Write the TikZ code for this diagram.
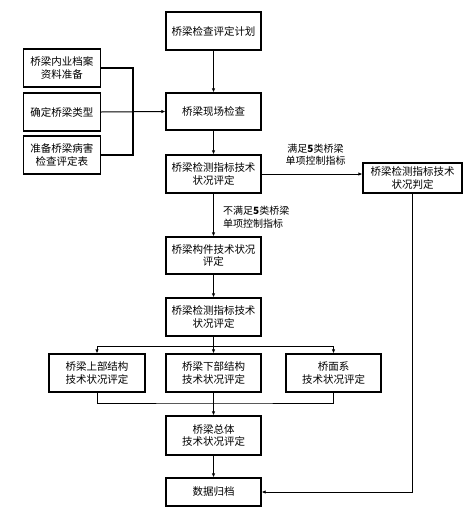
\documentclass[tikz,border=0pt]{standalone}
\usepackage{fontspec}
\usepackage{tikz}
\usetikzlibrary{arrows.meta}
\newfontfamily\cjk{Noto Sans CJK SC}

\begin{document}
\begin{tikzpicture}[
  x=1pt, y=1pt,
  box/.style={draw,line width=1.3pt,minimum width=95pt,minimum height=38pt,inner sep=2pt,align=center,font=\cjk\fontsize{10.5}{12.5}\selectfont},
  sidebox/.style={box,minimum width=77pt},
  lbl/.style={inner sep=0pt,font=\cjk\fontsize{10}{12.5}\selectfont},
  link/.style={line width=1pt},
  arr/.style={link,-{Latex[length=4pt,width=3.5pt]}}
]
  \useasboundingbox (0,0) rectangle (473,-515);
  \node[box] (plan) at (213.5,-31) {桥梁检查评定计划};
  \node[box,minimum height=37pt] (site) at (213.5,-111.5) {桥梁现场检查};
  \node[box] (index) at (213.5,-174) {桥梁检测指标技术\\状况评定};
  \node[box,minimum width=99pt,minimum height=30pt] (judge) at (412.5,-178) {桥梁检测指标技术\\状况判定};
  \node[box,minimum height=37pt] (member) at (213.5,-255.5) {桥梁构件技术状况\\评定};
  \node[box] (index2) at (213.5,-317) {桥梁检测指标技术\\状况评定};
  \node[box,minimum width=96pt] (upper) at (97,-373) {桥梁上部结构\\技术状况评定};
  \node[box] (lower) at (213.5,-373) {桥梁下部结构\\技术状况评定};
  \node[box] (deck) at (333.5,-373) {桥面系\\技术状况评定};
  \node[box,minimum height=39pt] (total) at (213.5,-435.5) {桥梁总体\\技术状况评定};
  \node[box,minimum height=28pt] (archive) at (213.5,-492) {数据归档};
  \node[sidebox] (files) at (62,-68) {桥梁内业档案\\资料准备};
  \node[sidebox] (type) at (62,-112) {确定桥梁类型};
  \node[sidebox] (form) at (62,-155) {准备桥梁病害\\检查评定表};
  \node[lbl,align=center] (yes) at (315.5,-154.5) {满足{\bfseries 5}类桥梁\\单项控制指标};
  \node[lbl,align=left,anchor=west] (no) at (223,-217) {不满足{\bfseries 5}类桥梁\\单项控制指标};
  \coordinate (join) at (133,-112);
  \coordinate (split) at (213.5,-346);
  \coordinate (merge) at (213.5,-403);
  \draw[link,line width=1.3pt] (files.east) -| (join) |- (form.east);
  \draw[arr] (type.east) -- (site.west);
  \draw[arr] (plan) -- (site);
  \draw[arr] (site) -- (index);
  \draw[arr] (index) -- (judge.west |- index.east);
  \draw[arr] (index) -- (member);
  \draw[arr] (member) -- (index2);
  \draw[link] (index2) -- (split);
  \draw[arr] (split) -| (upper.north);
  \draw[arr] (split) -| (deck.north);
  \draw[arr] (split) -- (lower);
  \draw[link] (upper.south) |- (merge) -| (deck.south);
  \draw[arr] (lower) -- (total);
  \draw[arr] (total) -- (archive);
  \draw[arr] (judge.south) |- (archive.east);
\end{tikzpicture}
\end{document}
